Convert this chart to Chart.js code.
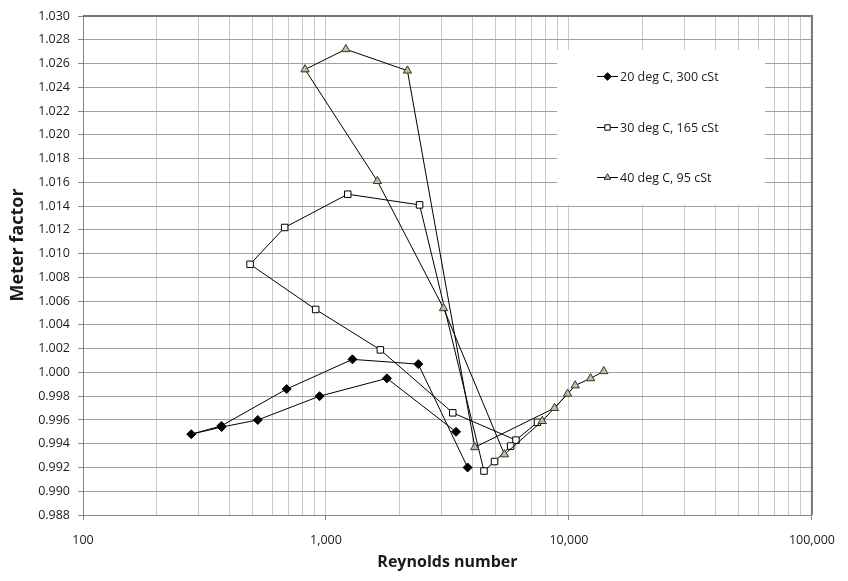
<!DOCTYPE html>
<html>
<head>
<meta charset="utf-8">
<title>Meter factor vs Reynolds number</title>
<script src="https://cdn.jsdelivr.net/npm/chart.js@4.4.1/dist/chart.umd.min.js"></script>
<style>
  html, body { margin: 0; padding: 0; background: #fff; }
</style>
</head>
<body>
<canvas id="chart" width="848" height="581"></canvas>
<script>
// series names, in legend order
var seriesNames = ["20 deg C, 300 cSt", "30 deg C, 165 cSt", "40 deg C, 95 cSt"];

// 20 deg C run: Reynolds number / meter factor, in test order
var re20 = [3430, 1782, 941, 524, 372, 279, 371, 689, 1285, 2398, 3827];
var mf20 = [0.9950, 0.9995, 0.9980, 0.9960, 0.9954, 0.9948, 0.9955, 0.9986, 1.0011, 1.0007, 0.9920];

// 30 deg C run
var re30 = [7420, 6052, 3325, 1674, 907, 487, 676, 1229, 2428, 4470, 4940, 5754];
var mf30 = [0.9958, 0.9943, 0.9966, 1.0019, 1.0053, 1.0091, 1.0122, 1.0150, 1.0141, 0.9917, 0.9925, 0.9938];

// 40 deg C run
var re40 = [13910, 12270, 10610, 8720, 4097, 2163, 1207, 820, 1628, 3046, 5426, 7760, 9870];
var mf40 = [1.0001, 0.9995, 0.9989, 0.9970, 0.9937, 1.0254, 1.0272, 1.0255, 1.0161, 1.0054, 0.9931, 0.9959, 0.9982];

// axis ticks
var xLabelTicks = [100, 1000, 10000, 100000];
var yTicks = [0.988, 0.990, 0.992, 0.994, 0.996, 0.998, 1.000, 1.002, 1.004, 1.006, 1.008,
              1.010, 1.012, 1.014, 1.016, 1.018, 1.020, 1.022, 1.024, 1.026, 1.028, 1.030];

var xTitle = "Reynolds number";
var yTitle = "Meter factor";

var tickFont = { family: "'Open Sans', sans-serif", size: 12.5 };
var titleFont = { family: "'Open Sans', sans-serif", size: 16, weight: "bold" };

// 1..9 x each decade for the log grid
var xGrid = [];
for (var d = 100; d < 100000; d *= 10) {
    for (var k = 1; k < 10; k++) xGrid.push(d * k);
}
xGrid.push(100000);

var toPoints = function (xs, ys) {
    return xs.map(function (x, i) { return { x: x, y: ys[i] }; });
};

var styles = [
    { pointStyle: "rectRot", radius: 4.5, fill: "#000000", stroke: "#000000" },
    { pointStyle: "rect", radius: 4.6, fill: "#ffffff", stroke: "#000000" },
    { pointStyle: "triangle", radius: 4.8, fill: "#c4bc96", stroke: "#333333" }
];

var series = [toPoints(re20, mf20), toPoints(re30, mf30), toPoints(re40, mf40)];

var datasets = series.map(function (data, i) {
    var s = styles[i];
    return {
        label: seriesNames[i],
        data: data,
        showLine: true,
        borderColor: "#000000",
        borderWidth: 1,
        tension: 0,
        pointStyle: s.pointStyle,
        pointRadius: s.radius,
        pointHoverRadius: s.radius,
        pointBackgroundColor: s.fill,
        pointBorderColor: s.stroke,
        pointBorderWidth: 1,
        order: 3 - i
    };
});

// white legend box sitting on the grid, upper right
var boxLegend = {
    id: "boxLegend",
    beforeDatasetsDraw: function (chart) {
        var ctx = chart.ctx;
        ctx.save();
        ctx.fillStyle = "#ffffff";
        ctx.fillRect(557, 50, 208, 155);
        var rows = [76, 127, 177];
        for (var i = 0; i < seriesNames.length; i++) {
            var y = rows[i];
            ctx.strokeStyle = "#000000";
            ctx.lineWidth = 1;
            ctx.beginPath();
            ctx.moveTo(597, y + 0.5);
            ctx.lineTo(618, y + 0.5);
            ctx.stroke();
            ctx.fillStyle = styles[i].fill;
            ctx.strokeStyle = styles[i].stroke;
            Chart.helpers.drawPoint(ctx, {
                pointStyle: styles[i].pointStyle,
                radius: 3.8,
                rotation: 0,
                borderWidth: 1
            }, 607.5, y + 0.5);
            ctx.fillStyle = "#1a1a1a";
            ctx.font = "12.5px 'Open Sans', sans-serif";
            ctx.textBaseline = "middle";
            ctx.textAlign = "left";
            ctx.fillText(seriesNames[i], 620, y + 1);
        }
        ctx.restore();
    },
    afterDraw: function (chart) {
        var a = chart.chartArea;
        var ctx = chart.ctx;
        ctx.save();
        // darker frame on top and right of the plot area
        ctx.strokeStyle = "#767676";
        ctx.lineWidth = 2;
        ctx.beginPath();
        ctx.moveTo(a.left, a.top);
        ctx.lineTo(a.right, a.top);
        ctx.lineTo(a.right, a.bottom);
        ctx.stroke();
        // vertical axis title, a little above the middle of the axis
        ctx.translate(18, 245);
        ctx.rotate(-Math.PI / 2);
        ctx.fillStyle = "#1a1a1a";
        ctx.font = "bold 18px 'Open Sans', sans-serif";
        ctx.textAlign = "center";
        ctx.textBaseline = "middle";
        ctx.fillText(yTitle, 0, 0);
        ctx.restore();
    }
};

var ctx = document.getElementById("chart");
var chart = new Chart(ctx, {
    type: "scatter",
    data: { datasets: datasets },
    plugins: [boxLegend],
    options: {
        responsive: false,
        animation: false,
        layout: { padding: { top: 16, right: 26, left: 0, bottom: 0 } },
        plugins: {
            legend: { display: false },
            tooltip: { enabled: false }
        },
        scales: {
            x: {
                type: "logarithmic",
                min: 100,
                max: 100000,
                afterBuildTicks: function (scale) {
                    scale.ticks = xGrid.map(function (v) {
                        return { value: v, major: xLabelTicks.indexOf(v) >= 0 };
                    });
                },
                afterFit: function (scale) { scale.height = 66; },
                ticks: {
                    autoSkip: false,
                    maxRotation: 0,
                    padding: 13,
                    color: "#1a1a1a",
                    font: tickFont,
                    callback: function (value) {
                        return xLabelTicks.indexOf(value) >= 0 ? value.toLocaleString("en-US") : "";
                    }
                },
                grid: {
                    color: "#c8c8c8",
                    lineWidth: 1,
                    tickLength: 5,
                    tickColor: function (c) {
                        return c.tick && xLabelTicks.indexOf(c.tick.value) >= 0 ? "#868686" : "rgba(0,0,0,0)";
                    }
                },
                border: { color: "#868686", width: 1 },
                title: {
                    display: true,
                    text: xTitle,
                    color: "#1a1a1a",
                    font: titleFont,
                    padding: { top: 0, bottom: 9 }
                }
            },
            y: {
                min: 0.988,
                max: 1.030,
                afterBuildTicks: function (scale) {
                    scale.ticks = yTicks.map(function (v) { return { value: v }; });
                },
                afterFit: function (scale) { scale.width = 83; },
                ticks: {
                    padding: 8,
                    color: "#1a1a1a",
                    font: tickFont,
                    callback: function (value) { return Number(value).toFixed(3); }
                },
                grid: {
                    color: "#a0a0a0",
                    lineWidth: 1,
                    tickLength: 5,
                    tickColor: "#868686"
                },
                border: { color: "#868686", width: 1 }
            }
        }
    }
});
</script>
</body>
</html>
